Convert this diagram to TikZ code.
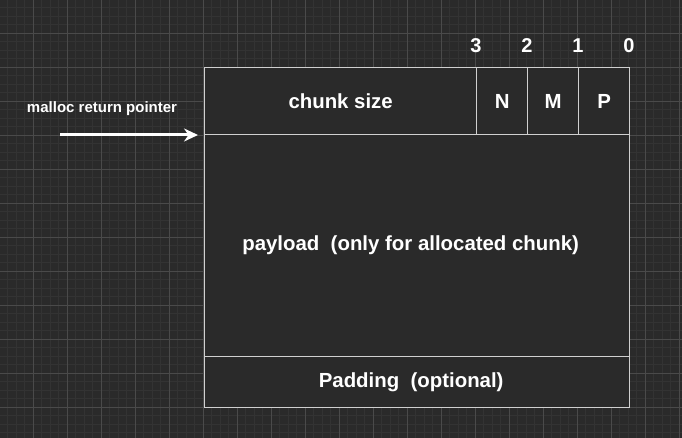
\documentclass[tikz,border=0pt]{standalone}
\usepackage{fontspec}
\setmainfont{Liberation Sans}
\usetikzlibrary{arrows.meta}
\definecolor{bg}{HTML}{2A2A2A}
\definecolor{gridminor}{HTML}{333333}
\definecolor{gridmajor}{HTML}{4A4A4A}
\definecolor{edge}{HTML}{D0D0D0}
\tikzset{>={Stealth[length=14pt,width=13pt]}}
\tikzset{
  cell/.style={draw=edge, line width=1.3pt, fill=bg, inner sep=0pt, anchor=north west,
    text=white, font=\bfseries\fontsize{20.4}{22}\selectfont},
  bitnum/.style={text=white, font=\bfseries\fontsize{20}{22}\selectfont}
}

\begin{document}
\begin{tikzpicture}[x=1pt,y=-1pt]
  % background and grid
  \fill[bg] (0,0) rectangle (682,438);
  \useasboundingbox (0,0) rectangle (682,438);
  \foreach \i in {0,...,81} {
    \draw[gridminor,line width=0.8pt] ({-0.7+8.5*\i},0) -- ++(0,438);
  }
  \foreach \i in {0,...,52} {
    \draw[gridminor,line width=0.8pt] (0,{-0.7+8.5*\i}) -- ++(682,0);
  }
  \foreach \i in {1,...,20} {
    \draw[gridmajor,line width=1pt] ({-0.7+34*\i},0) -- ++(0,438);
  }
  \foreach \i in {1,...,12} {
    \draw[gridmajor,line width=1pt] (0,{-0.7+34*\i}) -- ++(682,0);
  }
  % chunk header
  \node[cell, minimum width=272pt, minimum height=67pt] (size) at (204,67) {chunk size};
  \node[cell, minimum width=51pt, minimum height=67pt] (nbit) at (476,67) {N};
  \node[cell, minimum width=51pt, minimum height=67pt] (mbit) at (527,67) {M};
  \node[cell, minimum width=51pt, minimum height=67pt] (pbit) at (578,67) {P};
  % payload and padding
  \node[cell, minimum width=425pt, minimum height=222pt] (payload) at (204,134) {payload\ \ (only for allocated chunk)\hspace*{13pt}};
  \node[cell, minimum width=425pt, minimum height=51pt] (padding) at (204,356) {Padding\ \ (optional)\hspace*{12pt}};
  % bit numbers
  \node[bitnum] (b3) at (476,46) {3};
  \node[bitnum] (b2) at (527,46) {2};
  \node[bitnum] (b1) at (578,46) {1};
  \node[bitnum] (b0) at (629,46) {0};
  % pointer
  \coordinate (ptr) at (60,135);
  \coordinate (tip) at (198,135);
  \draw[->,white,line width=3pt] (ptr) -- (tip);
  \node[text=white, font=\bfseries\fontsize{15}{17}\selectfont] (ptrlabel) at (102,109) {malloc return pointer};
\end{tikzpicture}
\end{document}
